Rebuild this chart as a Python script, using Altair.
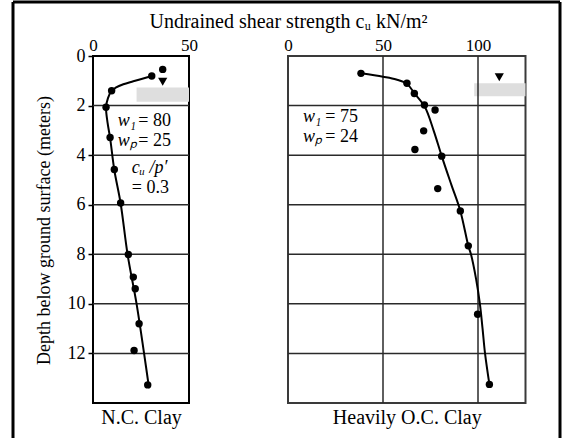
import altair as alt
import pandas as pd

# ---------------- data (cu in kN/m^2, depth in m) ----------------
# N.C. Clay: measured points
nc_cu = [36.3, 30.6, 9.7, 6.8, 8.9, 11.1, 14.4, 18.4, 21.0, 22.0, 24.0, 21.4, 28.5]
nc_depth = [0.54, 0.81, 1.40, 2.07, 3.29, 4.58, 5.93, 8.01, 8.92, 9.39, 10.8, 11.88, 13.27]
# N.C. Clay: drawn trend curve
nc_curve_cu = [30.6, 21.0, 15.8, 11.8, 9.7, 7.8, 6.8, 7.6, 8.9, 11.1, 14.4, 18.0, 22.7, 26.6, 29.2]
nc_curve_depth = [0.81, 1.02, 1.14, 1.28, 1.40, 1.70, 2.07, 2.70, 3.30, 4.60, 5.95, 8.0, 10.0, 12.0, 13.4]

# Heavily O.C. Clay: measured points
oc_cu = [38.4, 62.6, 66.5, 71.8, 77.4, 71.4, 66.8, 80.9, 78.8, 90.7, 94.9, 99.8, 106.0]
oc_depth = [0.70, 1.10, 1.51, 1.98, 2.18, 3.02, 3.77, 4.04, 5.35, 6.25, 7.66, 10.42, 13.25]
# Heavily O.C. Clay: drawn trend curve
oc_curve_cu = [38.4, 50.0, 57.0, 62.6, 66.5, 72.0, 76.7, 80.9, 86.0, 90.7, 94.9, 96.3, 99.0, 101.0, 102.4, 103.7, 106.0]
oc_curve_depth = [0.70, 0.84, 0.95, 1.12, 1.50, 2.05, 3.02, 4.04, 5.20, 6.25, 7.66, 8.0, 9.0, 10.0, 11.0, 12.0, 13.25]

# water table symbols and stippled bands
nc_wt_cu, nc_wt_depth = [36.3], [1.04]
nc_band = {"x0": [22.7], "x1": [50.0], "y0": [1.27], "y1": [1.85]}
oc_wt_cu, oc_wt_depth = [111.2], [0.86]
oc_band = {"x0": [98.0], "x1": [125.0], "y0": [1.10], "y1": [1.62]}

# panel extents, grid and tick values
nc_x_range = [0, 50]
oc_x_range = [0, 125]
depth_range = [0, 14]
depth_grid = [2, 4, 6, 8, 10, 12]
depth_ticks = [0, 2, 4, 6, 8, 10, 12]
nc_x_ticks = [0, 50]
oc_x_ticks = [0, 50, 100]
oc_x_grid = [50, 100]

# annotations
nc_sym_text = ["w\u2081", "w\u209a", "c\u1d64 /p\u2032"]
nc_sym_x = [12.9, 12.9, 20.2]
nc_sym_y = [2.61, 3.42, 4.50]
nc_val_text = ["= 80", "= 25", "= 0.3"]
nc_val_x = [23.6, 23.6, 20.2]
nc_val_y = [2.61, 3.42, 5.32]
oc_sym_text = ["w\u2081", "w\u209a"]
oc_sym_x = [7.9, 7.9]
oc_sym_y = [2.45, 3.25]
oc_val_text = ["= 75", "= 24"]
oc_val_x = [19.6, 19.6]
oc_val_y = [2.45, 3.25]

title_text = "Undrained shear strength c\u1d64 kN/m\u00b2"
y_title = "Depth below ground surface (meters)"
nc_label = "N.C. Clay"
oc_label = "Heavily O.C. Clay"

# ---------------- layout (pixels inside the single framed view) ----------------
W, H = 547, 436
NC_X0, NC_K = 80.0, 1.92      # pixel of cu=0, pixels per kN/m^2 (left panel)
OC_X0, OC_K = 275.0, 1.90     # right panel
Y0, YK = 54.0, 24.786         # pixel of depth=0, pixels per metre
FONT = "Liberation Serif"


def dom(p0, k, size):
    return [(0 - p0) / k, (size - p0) / k]


xs_nc = alt.Scale(domain=dom(NC_X0, NC_K, W), nice=False, zero=False)
xs_oc = alt.Scale(domain=dom(OC_X0, OC_K, W), nice=False, zero=False)
ys = alt.Scale(domain=dom(Y0, YK, H), reverse=True, nice=False, zero=False)

y_axis = alt.Axis(orient="left", offset=-NC_X0, values=depth_ticks, domain=False,
                  ticks=True, tickSize=5, tickColor="black", tickWidth=1.5,
                  grid=False, labelFont=FONT, labelFontSize=18, labelColor="black",
                  labelPadding=3, title=y_title, titleFont=FONT, titleFontSize=18,
                  titleFontWeight="normal", titleColor="black",
                  titleX=-40, titleY=228, titleAngle=270, titleBaseline="bottom")


def panel_layers(xs, x_range, cu, depth, ccu, cdepth, wt_cu, wt_depth, band,
                 sym_text, sym_x, sym_y, val_text, val_x, val_y,
                 x_ticks, x_grid, label, x0, k, with_y_axis, box_color):
    layers = []
    box = pd.DataFrame({"x0": [x_range[0]], "x1": [x_range[1]],
                        "y0": [depth_range[0]], "y1": [depth_range[1]]})
    bottom_axis = alt.Axis(orient="bottom", offset=-(H - (Y0 + YK * depth_range[1])),
                           labels=False, ticks=False, domain=False, grid=False,
                           title=label, titleFont=FONT, titleFontSize=20,
                           titleFontWeight="normal", titleColor="black", titlePadding=4,
                           titleX=x0 + k * (x_range[0] + x_range[1]) / 2, titleAlign="center")
    # panel box (carries the bottom label and, on the left panel, the depth axis)
    layers.append(alt.Chart(box).mark_rect(fillOpacity=0, stroke=box_color, strokeWidth=2).encode(
        x=alt.X("x0:Q", scale=xs, axis=bottom_axis), x2="x1:Q",
        y=alt.Y("y0:Q", scale=ys, axis=y_axis if with_y_axis else None), y2="y1:Q"))
    # stippled band
    layers.append(alt.Chart(pd.DataFrame(band)).mark_rect(color="#dedede").encode(
        x=alt.X("x0:Q", scale=xs, axis=None), x2="x1:Q",
        y=alt.Y("y0:Q", scale=ys, axis=None), y2="y1:Q"))
    # horizontal grid
    hg = pd.DataFrame({"d": depth_grid, "x0": [x_range[0]] * len(depth_grid),
                       "x1": [x_range[1]] * len(depth_grid)})
    layers.append(alt.Chart(hg).mark_rule(color="#2a2a2a", strokeWidth=1.5).encode(
        x=alt.X("x0:Q", scale=xs, axis=None), x2="x1:Q",
        y=alt.Y("d:Q", scale=ys, axis=None)))
    # vertical grid
    if x_grid:
        vg = pd.DataFrame({"c": x_grid, "y0": [depth_range[0]] * len(x_grid),
                           "y1": [depth_range[1]] * len(x_grid)})
        layers.append(alt.Chart(vg).mark_rule(color="#2a2a2a", strokeWidth=1.5).encode(
            x=alt.X("c:Q", scale=xs, axis=None),
            y=alt.Y("y0:Q", scale=ys, axis=None), y2="y1:Q"))
    # trend curve
    cdf = pd.DataFrame({"cu": ccu, "depth": cdepth, "i": list(range(len(ccu)))})
    layers.append(alt.Chart(cdf).mark_line(color="black", strokeWidth=2,
                                           interpolate="catmull-rom").encode(
        x=alt.X("cu:Q", scale=xs, axis=None),
        y=alt.Y("depth:Q", scale=ys, axis=None),
        order="i:Q"))
    # measured points (carry the top axis)
    top_axis = alt.Axis(orient="top", offset=-Y0, values=x_ticks, domain=False, ticks=False,
                        grid=False, title=None, labelFont=FONT, labelFontSize=17,
                        labelColor="black", labelPadding=2, labelAngle=0, labelFlush=False)
    pdf = pd.DataFrame({"cu": cu, "depth": depth})
    layers.append(alt.Chart(pdf).mark_circle(size=55, color="black", opacity=1).encode(
        x=alt.X("cu:Q", scale=xs, axis=top_axis),
        y=alt.Y("depth:Q", scale=ys, axis=None)))
    # water table triangle
    wdf = pd.DataFrame({"cu": wt_cu, "depth": wt_depth})
    layers.append(alt.Chart(wdf).mark_point(shape="triangle-down", filled=True, size=85,
                                            color="black", opacity=1).encode(
        x=alt.X("cu:Q", scale=xs, axis=None),
        y=alt.Y("depth:Q", scale=ys, axis=None)))
    # annotations
    sdf = pd.DataFrame({"t": sym_text, "x": sym_x, "y": sym_y})
    layers.append(alt.Chart(sdf).mark_text(align="left", baseline="middle", font=FONT,
                                           fontSize=18, fontStyle="italic", color="black").encode(
        x=alt.X("x:Q", scale=xs, axis=None), y=alt.Y("y:Q", scale=ys, axis=None), text="t:N"))
    vdf = pd.DataFrame({"t": val_text, "x": val_x, "y": val_y})
    layers.append(alt.Chart(vdf).mark_text(align="left", baseline="middle", font=FONT,
                                           fontSize=18, color="black").encode(
        x=alt.X("x:Q", scale=xs, axis=None), y=alt.Y("y:Q", scale=ys, axis=None), text="t:N"))
    return layers


left = panel_layers(xs_nc, nc_x_range, nc_cu, nc_depth, nc_curve_cu, nc_curve_depth,
                    nc_wt_cu, nc_wt_depth, nc_band, nc_sym_text, nc_sym_x, nc_sym_y,
                    nc_val_text, nc_val_x, nc_val_y, nc_x_ticks, [], nc_label,
                    NC_X0, NC_K, True, "black")
right = panel_layers(xs_oc, oc_x_range, oc_cu, oc_depth, oc_curve_cu, oc_curve_depth,
                     oc_wt_cu, oc_wt_depth, oc_band, oc_sym_text, oc_sym_x, oc_sym_y,
                     oc_val_text, oc_val_x, oc_val_y, oc_x_ticks, oc_x_grid, oc_label,
                     OC_X0, OC_K, False, "#3a3a3a")

# outer frame (open at the bottom, as in the figure)
one = pd.DataFrame({"k": [0]})
frame = [
    alt.Chart(one).mark_rule(color="black", strokeWidth=3).encode(
        x=alt.value(0), y=alt.value(0), y2=alt.value(H)),
    alt.Chart(one).mark_rule(color="black", strokeWidth=3).encode(
        x=alt.value(0), x2=alt.value(W), y=alt.value(0)),
    alt.Chart(one).mark_rule(color="black", strokeWidth=3).encode(
        x=alt.value(W), y=alt.value(0), y2=alt.value(H)),
]

chart = alt.layer(*(left + right + frame)).resolve_scale(
    x="independent", y="independent").properties(
    width=W, height=H,
    padding={"left": 13, "top": 2, "right": 2, "bottom": 0},
    autosize=alt.AutoSizeParams(type="none"),
    background="white",
    title=alt.TitleParams(text=title_text, font=FONT, fontSize=20, fontWeight="normal",
                          color="black", anchor="middle", frame="group", offset=-31, dx=2),
).configure_view(strokeWidth=0)

chart.save("out.html", embed_options={"renderer": "svg", "actions": False})
